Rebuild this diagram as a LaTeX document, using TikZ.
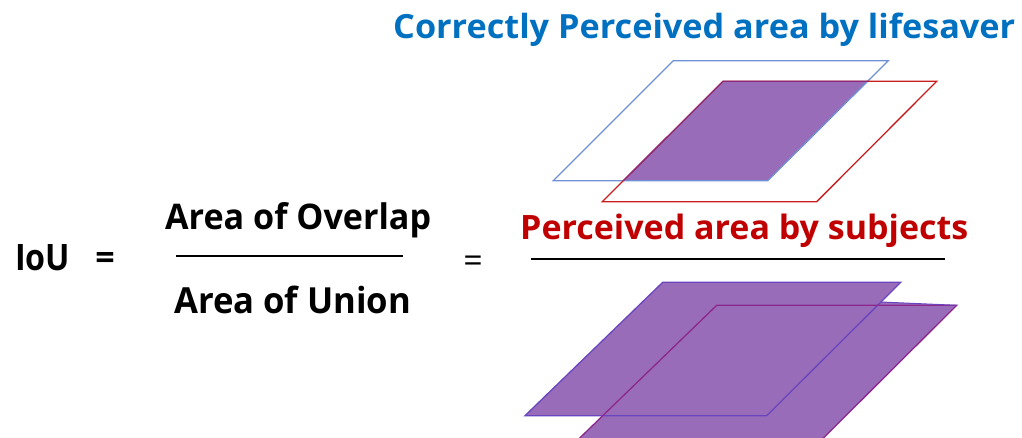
\documentclass[tikz,border=0pt]{standalone}
\usepackage{fontspec}
\setmainfont{Open Sans}
\usepackage{graphicx}
\definecolor{titleblue}{RGB}{0,112,192}
\definecolor{titlered}{RGB}{192,0,0}
\definecolor{purplefill}{RGB}{152,108,185}
\definecolor{purpleedge}{RGB}{112,48,160}
\definecolor{blueedge}{RGB}{111,145,212}
\definecolor{rededge}{RGB}{200,30,30}
\definecolor{bpedge}{RGB}{106,70,190}
\definecolor{rpedge}{RGB}{140,40,140}
\tikzset{
  lbl/.style={anchor=base west, inner sep=0pt, font=\fontsize{34}{40}\selectfont\bfseries},
  barline/.style={line width=2.7pt, black},
  plane/.style={line width=1.3pt, line join=miter}
}
\newcommand{\fitwh}[3]{\resizebox{#1}{#2}{#3}}
\begin{document}
\begin{tikzpicture}[x=1pt,y=-1pt]
\useasboundingbox (0,0) rectangle (1022,438);

% top planes
\coordinate (b1) at (673.3,60.7);
\coordinate (b2) at (888.3,60.7);
\coordinate (b3) at (767.7,180.7);
\coordinate (b4) at (553.3,180.7);
\coordinate (r1) at (723,81.3);
\coordinate (r2) at (936.7,81.3);
\coordinate (r3) at (816.7,201.7);
\coordinate (r4) at (602.3,201.7);
\begin{scope}
  \clip (b1)--(b2)--(b3)--(b4)--cycle;
  \fill[purplefill] (r1)--(r2)--(r3)--(r4)--cycle;
\end{scope}
\draw[plane, blueedge] (b1)--(b2)--(b3)--(b4)--cycle;
\draw[plane, rededge] (r1)--(r2)--(r3)--(r4)--cycle;
\begin{scope}
  \clip (b1)--(b2)--(b3)--(b4)--cycle;
  \draw[plane, purpleedge, opacity=0.7] (r1)--(r2)--(r3)--(r4)--cycle;
\end{scope}

% bottom planes (union)
\coordinate (p1) at (662.7,282.3);
\coordinate (p2) at (900.7,282.3);
\coordinate (p3) at (766.7,415.7);
\coordinate (p4) at (525,415.7);
\coordinate (q1) at (716.7,305.3);
\coordinate (q2) at (956.7,305.3);
\coordinate (q3) at (822.7,438.7);
\coordinate (q4) at (579,438.7);
\coordinate (s1) at (880.9,302.0);
\coordinate (s2) at (877.6,305.3);
\fill[purplefill] (p1)--(p2)--(p3)--(p4)--cycle;
\fill[purplefill] (q1)--(q2)--(q3)--(q4)--cycle;
\fill[purplefill] (s1)--(q2)--(s2)--cycle;
\draw[plane, bpedge] (p1)--(p2)--(p3)--(p4)--cycle;
\draw[plane, rpedge] (q1)--(q2)--(q3)--(q4)--cycle;
\draw[plane, bpedge, line width=1pt] (s1)--(q2);

% texts
\node[lbl, text=titleblue] (tblue) at (393,39) {\fitwh{622pt}{25.5pt}{Correctly Perceived area by lifesaver}};
\node[lbl, text=titlered] (tred) at (520,240) {\fitwh{448pt}{25.5pt}{Perceived area by subjects}};
\node[lbl] (iou) at (15,270) {\fitwh{55pt}{26pt}{IoU}};
\node[anchor=center, inner sep=0pt, font=\fontsize{34}{40}\selectfont\bfseries] (eq1) at (105,261) {=};
\node[lbl] (num) at (165,230) {\fitwh{266pt}{27pt}{Area of Overlap}};
\node[lbl] (den) at (174,313) {\fitwh{237pt}{27.5pt}{Area of Union}};
\node[anchor=center, inner sep=0pt, font=\fontsize{34}{40}\selectfont] (eq2) at (473,264) {=};

% fraction bars
\coordinate (f1a) at (176,256);
\coordinate (f1b) at (403,256);
\coordinate (f2a) at (531,259);
\coordinate (f2b) at (945,259);
\draw[barline] (f1a)--(f1b);
\draw[barline] (f2a)--(f2b);
\end{tikzpicture}
\end{document}
